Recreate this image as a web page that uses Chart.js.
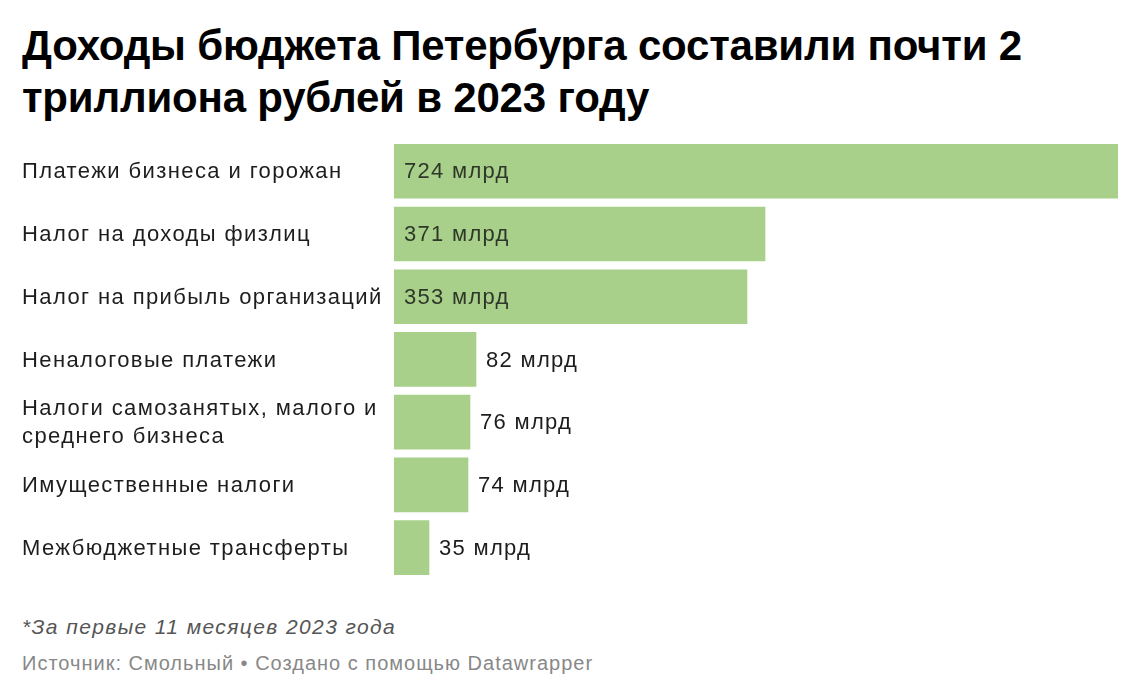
<!DOCTYPE html>
<html>
<head>
<meta charset="utf-8">
<script src="https://cdn.jsdelivr.net/npm/chart.js@4.4.1/dist/chart.umd.min.js"></script>
<style>
  html, body { margin: 0; padding: 0; background: #fff; }
  body { width: 1140px; height: 698px; position: relative; overflow: hidden; }
  #title {
    position: absolute; left: 22px; top: 20px; width: 1110px;
    font-family: "Liberation Sans", Arial, sans-serif; font-weight: bold;
    font-size: 42px; line-height: 52px; color: #000; letter-spacing: -0.2px; margin: 0;
  }
  #wrap { position: absolute; left: 0; top: 130px; width: 1140px; height: 460px; }
  #note {
    position: absolute; left: 22px; top: 615px;
    font-family: "Liberation Sans", Arial, sans-serif; font-style: italic;
    font-size: 21px; color: #555; letter-spacing: 1.4px;
  }
  #source {
    position: absolute; left: 22px; top: 652px;
    font-family: "Liberation Sans", Arial, sans-serif;
    font-size: 20px; color: #888; letter-spacing: 1px;
  }
</style>
</head>
<body>
<h1 id="title">Доходы бюджета Петербурга составили почти 2 триллиона рублей в 2023 году</h1>
<div id="wrap"><canvas id="c"></canvas></div>
<div id="note">*За первые 11 месяцев 2023 года</div>
<div id="source">Источник: Смольный • Создано с помощью Datawrapper</div>
<script>
const categories = [
  "Платежи бизнеса и горожан",
  "Налог на доходы физлиц",
  "Налог на прибыль организаций",
  "Неналоговые платежи",
  ["Налоги самозанятых, малого и", "среднего бизнеса"],
  "Имущественные налоги",
  "Межбюджетные трансферты"
];
const values = [724, 371, 353, 82, 76, 74, 35];
const valueLabels = ["724 млрд", "371 млрд", "353 млрд", "82 млрд", "76 млрд", "74 млрд", "35 млрд"];

const barColor = "#a9d08b";
const FONT = '22px "Liberation Sans", Arial, sans-serif';

const labelPlugin = {
  id: "labelsPlugin",
  afterDatasetsDraw(chart) {
    const ctx = chart.ctx;
    const meta = chart.getDatasetMeta(0);
    const yScale = chart.scales.y;
    ctx.save();
    ctx.font = FONT;
    ctx.textBaseline = "middle";
    ctx.textAlign = "left";
    // category labels
    ctx.letterSpacing = "1.4px";
    ctx.fillStyle = "#1d1d1d";
    chart.data.labels.forEach((lab, i) => {
      const y = yScale.getPixelForTick(i);
      const lines = Array.isArray(lab) ? lab : [lab];
      const lh = 28;
      const y0 = y - (lines.length - 1) * lh / 2;
      lines.forEach((ln, k) => ctx.fillText(ln, 22, y0 + k * lh + 1));
    });
    // value labels
    ctx.letterSpacing = "1.3px";
    meta.data.forEach((bar, i) => {
      const left = bar.base;
      const w = bar.x - bar.base;
      const txt = valueLabels[i];
      const tw = ctx.measureText(txt).width;
      if (tw + 20 < w) {
        ctx.fillStyle = "#2e3829";
        ctx.fillText(txt, left + 10, bar.y + 1);
      } else {
        ctx.fillStyle = "#1d1d1d";
        ctx.fillText(txt, bar.x + 10, bar.y + 1);
      }
    });
    ctx.restore();
  }
};

new Chart(document.getElementById("c"), {
  type: "bar",
  data: {
    labels: categories,
    datasets: [{
      data: values,
      backgroundColor: barColor,
      borderWidth: 0,
      barThickness: 54
    }]
  },
  options: {
    indexAxis: "y",
    responsive: true,
    maintainAspectRatio: false,
    animation: false,
    layout: { padding: { left: 22, right: 22, top: 9.9, bottom: 11 } },
    plugins: { legend: { display: false }, tooltip: { enabled: false } },
    scales: {
      x: { display: false, min: 0, max: 724 },
      y: {
        grid: { display: false },
        border: { display: false },
        ticks: { display: false },
        afterFit(scale) { scale.width = 372; }
      }
    }
  },
  plugins: [labelPlugin]
});
</script>
</body>
</html>
